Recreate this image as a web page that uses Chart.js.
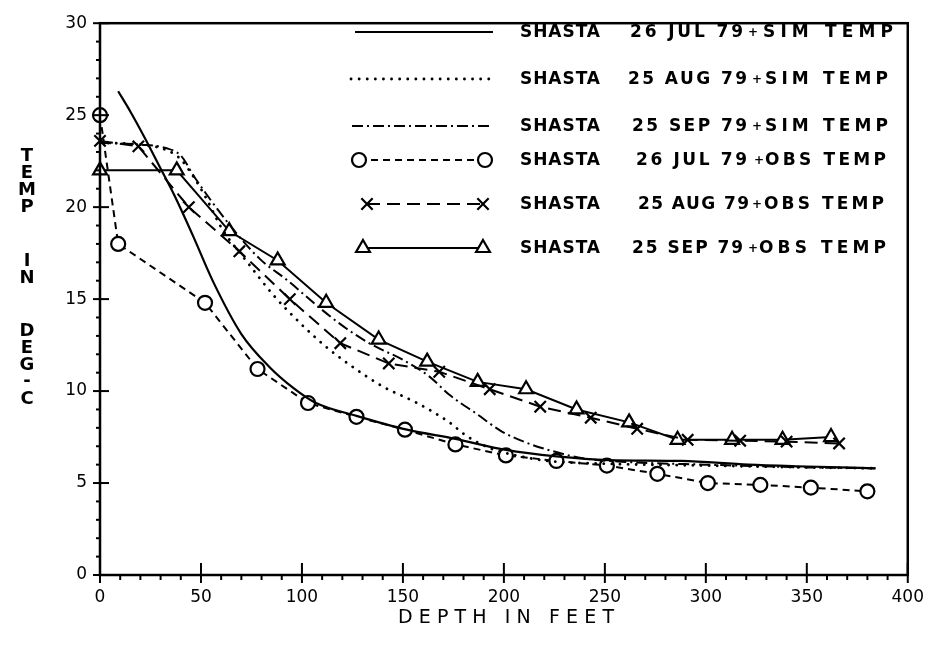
<!DOCTYPE html>
<html><head><meta charset="utf-8">
<script src="https://cdn.jsdelivr.net/npm/chart.js@4/dist/chart.umd.min.js"></script>
<style>html,body{margin:0;padding:0;background:#fff}canvas{display:block}</style>
</head><body>
<canvas id="c" width="936" height="649"></canvas>
<script>
// ---- data (depth in feet, temperature in deg C) ----
const simJulDepth = [9, 15, 22, 30, 37, 46, 56, 70, 84, 96, 107, 127, 152, 176, 201, 226, 252, 288, 321, 350, 384];
const simJulTemp  = [26.3, 25.2, 23.8, 22.1, 20.6, 18.45, 15.95, 13.1, 11.3, 10.15, 9.35, 8.65, 7.9, 7.4, 6.8, 6.45, 6.25, 6.2, 6.0, 5.9, 5.8];

const simAugDepth = [0, 20, 33, 40, 46, 53, 60, 73, 86, 100, 112, 124, 140, 157, 173, 181, 193, 206, 222, 250, 300, 350, 384];
const simAugTemp  = [23.5, 23.4, 23.1, 22.6, 21.7, 20.4, 18.9, 17.0, 15.2, 13.6, 12.4, 11.4, 10.25, 9.35, 8.3, 7.6, 6.9, 6.5, 6.2, 6.05, 5.95, 5.85, 5.8];

const simSepDepth = [0, 20, 33, 40, 47, 63, 79, 93, 109, 122, 135, 150, 163, 173, 186, 199, 211, 222, 239, 260, 300, 350, 384];
const simSepTemp  = [23.5, 23.4, 23.2, 22.8, 21.6, 19.2, 17.2, 16.0, 14.5, 13.4, 12.5, 11.7, 10.8, 9.8, 8.8, 7.8, 7.2, 6.8, 6.35, 6.15, 6.0, 5.85, 5.8];

const obsJulDepth = [0, 9, 52, 78, 103, 127, 151, 176, 201, 226, 251, 276, 301, 327, 352, 380];
const obsJulTemp  = [25, 18, 14.8, 11.2, 9.35, 8.6, 7.9, 7.1, 6.5, 6.2, 5.95, 5.5, 5.0, 4.9, 4.75, 4.55];

const obsAugDepth = [0, 19, 44, 69, 94, 119, 143, 168, 193, 218, 243, 266, 291, 317, 340, 366];
const obsAugTemp  = [23.6, 23.3, 20.0, 17.6, 15.0, 12.6, 11.5, 11.05, 10.1, 9.15, 8.55, 7.95, 7.35, 7.3, 7.25, 7.15];

const obsSepDepth = [0, 38, 64, 88, 112, 138, 162, 187, 211, 236, 262, 286, 313, 338, 362];
const obsSepTemp  = [22, 22, 18.7, 17.1, 14.8, 12.8, 11.6, 10.5, 10.1, 9.0, 8.3, 7.35, 7.35, 7.35, 7.5];

const xTickValues = [0, 50, 100, 150, 200, 250, 300, 350, 400];
const yTickValues = [0, 5, 10, 15, 20, 25, 30];

const legendNames = ["SHASTA", "SHASTA", "SHASTA", "SHASTA", "SHASTA", "SHASTA"];
const legendDates = ["26 JUL 79", "25 AUG 79", "25 SEP 79", "26 JUL 79", "25 AUG 79", "25 SEP 79"];
const legendKinds = ["SIM TEMP", "SIM TEMP", "SIM TEMP", "OBS TEMP", "OBS TEMP", "OBS TEMP"];
const xTitle = "DEPTH IN FEET";
const yTitleWords = ["TEMP", "IN", "DEG-C"];

// ---- build datasets ----
const pts = (xs, ys) => xs.map((x, i) => ({x, y: ys[i]}));
const base = {borderColor:'#000', backgroundColor:'#fff', borderWidth:2, clip:false, fill:false};
const datasets = [
  {...base, data: pts(simJulDepth, simJulTemp), pointRadius:0, cubicInterpolationMode:'monotone', borderWidth:2.2},
  {...base, data: pts(simAugDepth, simAugTemp), pointRadius:0, cubicInterpolationMode:'monotone', borderDash:[0.1,8], borderCapStyle:'round', borderWidth:2.8},
  {...base, data: pts(simSepDepth, simSepTemp), pointRadius:0, cubicInterpolationMode:'monotone', borderDash:[11,4,2,4]},
  {...base, data: pts(obsJulDepth, obsJulTemp), tension:0, borderDash:[7,5], pointStyle:'circle', pointRadius:7, pointBorderWidth:2.2, pointBackgroundColor:'#fff', pointBorderColor:'#000'},
  {...base, data: pts(obsAugDepth, obsAugTemp), tension:0, borderDash:[13,7], pointStyle:'crossRot', pointRadius:8, pointBorderWidth:2.2, pointBorderColor:'#000'},
  {...base, data: pts(obsSepDepth, obsSepTemp), tension:0, pointStyle:'triangle', pointRadius:8, pointBorderWidth:2.2, pointBackgroundColor:'#fff', pointBorderColor:'#000'}
];

// ---- layout constants ----
const LEG_ROWS = [32, 79, 126, 160, 204, 248];
const LEG_LINE = [[355,493],[351,493],[352,493],[359,485],[367,483],[363,483]];
const LEG_NAME_X = 520, LEG_NAME_W = 80;
const LEG_DATE = [[630,113],[628,119],[632,115],[636,111],[638,111],[632,111]];
const LEG_PLUS = [753,757,757,759,757,753];
const LEG_TAIL = [[763,130],[765,123],[765,123],[765,121],[764,120],[759,127]];
const YT_WORD_Y = [156, 261, 331];

function drawFit(ctx, text, x, y, w) {
  ctx.letterSpacing = '0px';
  const m = ctx.measureText(text).width;
  const n = text.length;
  if (m < w && n > 1) {
    ctx.letterSpacing = ((w - m) / (n - 1)).toFixed(2) + 'px';
    ctx.fillText(text, x, y);
  } else {
    ctx.fillText(text, x, y, w);
  }
  ctx.letterSpacing = '0px';
}

const decor = {
  id: 'decor',
  afterDatasetsDraw(chart) {
    const {ctx, chartArea: a, scales: {x, y}} = chart;
    ctx.save();
    ctx.strokeStyle = '#000'; ctx.fillStyle = '#000';
    // frame
    ctx.lineWidth = 2.5;
    ctx.strokeRect(a.left, a.top, a.right - a.left, a.bottom - a.top);
    // ticks
    ctx.lineWidth = 2;
    for (let v = 0; v <= 30; v++) {
      const py = y.getPixelForValue(v); const major = v % 5 === 0;
      ctx.beginPath(); ctx.moveTo(a.left - (major ? 7 : 4), py); ctx.lineTo(a.left + (major ? 9 : 1), py); ctx.stroke();
    }
    for (let v = 0; v <= 400; v += 10) {
      const px = x.getPixelForValue(v); const major = v % 50 === 0;
      ctx.beginPath(); ctx.moveTo(px, a.bottom - (major ? 12 : 0)); ctx.lineTo(px, a.bottom + (major ? 8 : 5)); ctx.stroke();
    }
    // legend
    chart.data.datasets.forEach((ds, i) => {
      const ry = LEG_ROWS[i];
      const [x0, x1] = LEG_LINE[i];
      ctx.save();
      ctx.lineWidth = ds.borderWidth;
      ctx.setLineDash(ds.borderDash || []);
      ctx.lineCap = ds.borderCapStyle || 'butt';
      ctx.beginPath(); ctx.moveTo(x0, ry); ctx.lineTo(x1, ry); ctx.stroke();
      ctx.restore();
      if (ds.pointRadius > 0) {
        ctx.save();
        ctx.fillStyle = '#fff'; ctx.strokeStyle = '#000'; ctx.lineWidth = ds.pointBorderWidth;
        const o = {pointStyle: ds.pointStyle, radius: ds.pointRadius, rotation: 0, borderWidth: ds.pointBorderWidth};
        Chart.helpers.drawPoint(ctx, o, x0, ry);
        Chart.helpers.drawPoint(ctx, o, x1, ry);
        ctx.restore();
      }
      ctx.textBaseline = 'middle'; ctx.textAlign = 'left';
      ctx.font = 'bold 17px "DejaVu Sans"';
      drawFit(ctx, legendNames[i], LEG_NAME_X, ry + 1, LEG_NAME_W);
      drawFit(ctx, legendDates[i], LEG_DATE[i][0], ry + 1, LEG_DATE[i][1]);
      drawFit(ctx, legendKinds[i], LEG_TAIL[i][0], ry + 1, LEG_TAIL[i][1]);
      ctx.font = 'bold 12px "DejaVu Sans"'; ctx.textAlign = 'center';
      ctx.fillText('+', LEG_PLUS[i], ry + 1);
    });
    // axis titles
    ctx.textAlign = 'left'; ctx.textBaseline = 'middle';
    ctx.font = '19px "DejaVu Sans"';
    drawFit(ctx, xTitle, 398, 618, 216);
    ctx.textAlign = 'center';
    ctx.font = 'bold 18px "DejaVu Sans"';
    yTitleWords.forEach((w, wi) => {
      let ty = YT_WORD_Y[wi];
      for (const ch of w) {
        ctx.fillText(ch, 27, ch === '-' ? ty - 1 : ty); ty += 17;
      }
    });
    ctx.restore();
  }
};

new Chart(document.getElementById('c'), {
  type: 'line',
  data: {datasets},
  plugins: [decor],
  options: {
    responsive: false, animation: false, devicePixelRatio: 1,
    layout: {padding: {left: 0, right: 25, top: 14, bottom: 0}},
    plugins: {legend: {display: false}, tooltip: {enabled: false}},
    scales: {
      x: {
        type: 'linear', min: 0, max: 400,
        afterBuildTicks: s => { s.ticks = xTickValues.map(v => ({value: v})); },
        afterFit: s => { s.height = 74; },
        grid: {display: false, drawTicks: false},
        border: {display: false},
        ticks: {color: '#000', padding: 12, font: {family: 'DejaVu Sans', size: 17}, maxRotation: 0}
      },
      y: {
        type: 'linear', min: 0, max: 30,
        afterBuildTicks: s => { s.ticks = yTickValues.map(v => ({value: v})); },
        afterFit: s => { s.width = 100; },
        grid: {display: false, drawTicks: false},
        border: {display: false},
        ticks: {color: '#000', padding: 13, font: {family: 'DejaVu Sans', size: 17}}
      }
    }
  }
});
</script>
</body></html>
